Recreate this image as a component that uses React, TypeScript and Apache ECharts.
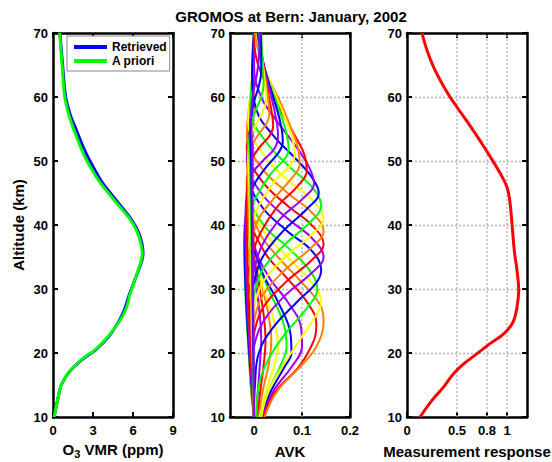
import React, { useEffect, useRef } from 'react';
import * as echarts from 'echarts';

const FONT = '"Liberation Sans", Arial, Helvetica, sans-serif';

// ---------- Panel 1: ozone profiles (ppm) ----------
const o3Altitudes = [10, 13, 15, 17, 19, 20.5, 22.5, 25, 27, 29, 31.5, 34, 35.5, 37, 39, 41, 43, 45, 47, 50, 52, 55, 57, 60, 65, 70];
const o3Retrieved = [0.08, 0.38, 0.62, 1.2, 2.2, 3.2, 4.15, 4.95, 5.4, 5.7, 6.15, 6.6, 6.75, 6.68, 6.38, 5.83, 5.07, 4.3, 3.58, 2.77, 2.3, 1.72, 1.33, 0.95, 0.72, 0.52];
const o3Apriori = [0.08, 0.38, 0.62, 1.2, 2.15, 3.15, 4.1, 5.0, 5.5, 5.75, 6.15, 6.55, 6.7, 6.6, 6.3, 5.75, 4.95, 4.15, 3.4, 2.55, 2.1, 1.55, 1.22, 0.88, 0.68, 0.5];
const o3Ticks = [0, 3, 6, 9];

// ---------- Panel 2: averaging kernels, [AVK value, altitude km] ----------
const avkNominal = [10, 12, 14, 16, 18, 20, 22, 24, 26, 28, 30, 32, 34, 36, 38, 40, 42, 44, 46, 48, 50, 52, 54, 56, 58, 60, 62, 64, 66, 68, 70];
const avkKernels: number[][][] = [
  [[0.005, 10], [0.008, 14], [0.012, 18], [0.015, 22], [0.012, 26], [0.006, 30], [0.0, 36], [-0.004, 44], [-0.002, 55], [0, 70]],
  [[0.008, 10], [0.013, 14], [0.02, 18], [0.024, 22], [0.02, 26], [0.01, 31], [0, 37], [-0.005, 45], [-0.002, 56], [0, 70]],
  [[0.01, 10], [0.018, 14], [0.03, 18], [0.036, 22], [0.03, 26], [0.015, 31], [0, 37], [-0.006, 45], [-0.002, 56], [0, 70]],
  [[0.012, 10], [0.025, 14], [0.042, 18], [0.05, 21], [0.042, 25], [0.02, 30], [0.002, 36], [-0.008, 44], [-0.003, 56], [0, 70]],
  [[0.014, 10], [0.03, 14], [0.055, 18], [0.068, 21], [0.06, 25], [0.03, 30], [0.005, 35], [-0.01, 43], [-0.004, 55], [0, 70]],
  [[0.016, 10], [0.035, 14], [0.065, 18], [0.078, 20], [0.076, 23], [0.05, 28], [0.015, 33], [-0.008, 40], [-0.006, 50], [0, 70]],
  [[0.018, 10], [0.04, 14], [0.08, 18], [0.1, 21], [0.098, 24], [0.07, 28], [0.03, 32], [0.0, 37], [-0.01, 44], [-0.004, 55], [0, 70]],
  [[0.02, 10], [0.045, 14], [0.095, 18], [0.125, 22], [0.13, 24.5], [0.11, 28], [0.065, 32], [0.02, 36], [-0.008, 42], [-0.005, 52], [0, 70]],
  [[0.022, 10], [0.048, 14], [0.098, 18], [0.13, 21], [0.145, 25], [0.138, 27.5], [0.1, 31], [0.05, 35], [0.01, 39], [-0.01, 45], [-0.004, 55], [0, 70]],
  [[0.015, 10], [0.03, 14], [0.06, 18], [0.095, 22], [0.13, 26], [0.14, 28], [0.12, 31], [0.07, 35], [0.02, 39], [-0.01, 44], [-0.005, 54], [0, 70]],
  [[0.005, 10], [0.01, 15], [0.03, 19], [0.065, 23], [0.11, 27], [0.132, 30], [0.115, 33], [0.07, 36.5], [0.02, 40], [-0.01, 45], [-0.005, 55], [0, 70]],
  [[0, 10], [0.002, 15], [0.01, 20], [0.04, 24], [0.09, 28], [0.13, 31], [0.14, 33], [0.12, 36], [0.07, 39], [0.015, 43], [-0.012, 48], [-0.004, 58], [0, 70]],
  [[0, 10], [-0.005, 16], [0, 21], [0.02, 25], [0.065, 29], [0.12, 32.5], [0.145, 35], [0.12, 38], [0.07, 41], [0.015, 45], [-0.015, 50], [-0.005, 58], [0, 70]],
  [[0, 10], [-0.008, 18], [0, 23], [0.018, 27], [0.065, 31], [0.12, 34.5], [0.145, 37], [0.12, 40], [0.07, 43], [0.015, 47], [-0.015, 52], [-0.005, 60], [0, 70]],
  [[0, 10], [-0.01, 20], [0, 25], [0.018, 29], [0.065, 33], [0.12, 36.5], [0.145, 39], [0.12, 42], [0.07, 45], [0.015, 49], [-0.015, 54], [-0.005, 62], [0, 70]],
  [[0, 10], [-0.01, 22], [0, 27], [0.018, 31], [0.065, 35], [0.12, 38.5], [0.145, 41], [0.12, 44], [0.07, 47], [0.02, 51], [-0.012, 56], [-0.004, 63], [0, 70]],
  [[0, 10], [-0.01, 24], [0, 29], [0.018, 33], [0.065, 37], [0.118, 40.5], [0.14, 43], [0.12, 46], [0.075, 49], [0.025, 53], [-0.008, 58], [-0.003, 64], [0, 70]],
  [[0, 10], [-0.01, 26], [0, 31], [0.018, 35], [0.06, 39], [0.11, 42.5], [0.135, 45], [0.12, 47.5], [0.085, 50.5], [0.04, 54], [0.005, 58], [-0.004, 64], [0, 70]],
  [[0, 10], [-0.012, 28], [0, 33], [0.018, 37], [0.055, 41], [0.1, 44], [0.125, 46.5], [0.115, 49], [0.09, 52], [0.05, 56], [0.015, 60], [0, 65], [0, 70]],
  [[0, 10], [-0.015, 30], [-0.005, 35], [0.015, 39], [0.05, 43], [0.09, 46], [0.11, 48.5], [0.105, 51], [0.085, 54], [0.055, 58], [0.025, 62], [0.005, 66], [0, 70]],
  [[0, 10], [-0.015, 32], [-0.008, 37], [0.01, 41], [0.04, 44], [0.075, 47], [0.095, 49.5], [0.092, 52], [0.078, 55], [0.056, 59], [0.03, 63], [0.01, 67], [0.002, 70]],
  [[0, 10], [-0.018, 34], [-0.01, 39], [0.01, 43], [0.045, 47], [0.078, 49.5], [0.085, 51], [0.078, 54], [0.058, 58], [0.035, 62], [0.016, 66], [0.006, 70]],
  [[0, 10], [-0.02, 36], [-0.012, 41], [0.002, 44], [0.035, 48], [0.066, 50.5], [0.072, 52], [0.065, 55], [0.048, 59], [0.028, 63], [0.013, 67], [0.007, 70]],
  [[0, 10], [-0.02, 38], [-0.014, 43], [-0.002, 46], [0.025, 49], [0.053, 51.5], [0.06, 53], [0.055, 56], [0.04, 60], [0.024, 64], [0.012, 68], [0.008, 70]],
  [[0, 10], [-0.018, 40], [-0.015, 45], [-0.004, 48], [0.018, 50], [0.043, 52], [0.05, 54], [0.045, 57], [0.033, 61], [0.02, 65], [0.012, 69], [0.01, 70]],
  [[0, 10], [-0.015, 42], [-0.015, 47], [-0.006, 50], [0.01, 52], [0.033, 54], [0.04, 55.5], [0.036, 58], [0.026, 62], [0.017, 66], [0.012, 70]],
  [[0, 10], [-0.012, 44], [-0.014, 49], [-0.007, 52], [0.008, 54], [0.027, 56], [0.032, 57.5], [0.029, 60], [0.021, 64], [0.014, 68], [0.013, 70]],
  [[0, 10], [-0.01, 46], [-0.012, 51], [-0.006, 54], [0.006, 56], [0.02, 58], [0.025, 59.5], [0.023, 62], [0.017, 66], [0.014, 70]],
  [[0, 10], [-0.008, 48], [-0.01, 53], [-0.005, 56], [0.004, 58], [0.015, 60], [0.02, 62], [0.018, 64.5], [0.015, 70]],
  [[0, 10], [-0.006, 50], [-0.008, 55], [-0.004, 58], [0.003, 60], [0.011, 62], [0.015, 64], [0.015, 67], [0.014, 70]],
  [[0, 10], [-0.004, 52], [-0.006, 57], [-0.003, 60], [0.002, 62], [0.007, 64], [0.01, 66], [0.012, 70]],
];
const avkColors = ['#ff0000', '#ff8000', '#ffff00', '#00ff00', '#0000ff', '#9900ff'];
const avkTicks = [0, 0.1, 0.2];
const avkGridX = [0, 0.1];

// ---------- Panel 3: measurement response ----------
const respAltitudes = [10, 12.6, 14.7, 16.8, 18.3, 19.9, 21.5, 23, 24.8, 27.2, 29.8, 32.9, 36, 40.2, 43.9, 45.9, 48, 50.1, 52.7, 55.3, 58.4, 60, 62.1, 64.7, 67.3, 70];
const respValues = [0.13, 0.25, 0.367, 0.467, 0.567, 0.7, 0.833, 0.967, 1.06, 1.1, 1.117, 1.1, 1.073, 1.05, 1.027, 1.0, 0.935, 0.855, 0.75, 0.64, 0.5, 0.43, 0.35, 0.265, 0.2, 0.15];
const respTicks = [0, 0.5, 0.8, 1];
const respGridX = [0.5, 0.8, 1];

const altTicksMin = 10;
const altTicksMax = 70;

export default function App() {
  const ref = useRef<HTMLDivElement>(null);

  useEffect(() => {
    if (!ref.current) return;
    const chart = echarts.init(ref.current, null, { renderer: 'svg' });

    const lefts = [53, 230, 407];
    const top = 33;
    const width = 120;
    const height = 384;
    const grids = lefts.map((l) => ({ left: l, top, width, height, containLabel: false, outerBoundsMode: 'none' }));

    const labelStyle = { color: '#000', fontFamily: FONT, fontWeight: 'bold' as const, fontSize: 13 };
    const nameStyle = { color: '#000', fontFamily: FONT, fontWeight: 'bold' as const, fontSize: 15 };
    const frameLine = { show: true, onZero: false, lineStyle: { color: '#000', width: 2.5 } };
    const gridLineStyle = { color: '#b0b0b0', width: 1.3, type: [2, 2] as any };

    const xRanges = [
      { min: 0, max: 9, ticks: o3Ticks },
      { min: -0.05, max: 0.2, ticks: avkTicks },
      { min: 0, max: 1.2, ticks: respTicks },
    ];
    const xNames = ['{a|O}{b|3}{a| VMR (ppm)}', 'AVK', 'Measurement response'];

    const xAxis: any[] = [];
    const yAxis: any[] = [];
    xRanges.forEach((r, i) => {
      xAxis.push({
        gridIndex: i,
        type: 'value',
        position: 'bottom',
        min: r.min,
        max: r.max,
        axisLine: frameLine,
        axisTick: { show: true, inside: true, length: 5, lineStyle: { color: '#000', width: 2 }, customValues: r.ticks },
        axisLabel: { show: true, margin: 7, ...labelStyle, customValues: r.ticks, formatter: (v: number) => String(+v.toFixed(2)) },
        splitLine: { show: false },
        name: xNames[i],
        nameLocation: 'middle',
        nameGap: i === 0 ? 21 : 27,
        nameTextStyle: {
          ...nameStyle,
          rich: {
            a: { ...nameStyle },
            b: { ...nameStyle, fontSize: 11, padding: [10, 0, 0, 0] },
          },
        },
      });
      xAxis.push({
        gridIndex: i,
        type: 'value',
        position: 'top',
        min: r.min,
        max: r.max,
        axisLine: frameLine,
        axisTick: { show: true, inside: true, length: 5, lineStyle: { color: '#000', width: 2 }, customValues: r.ticks },
        axisLabel: { show: false },
        splitLine: { show: false },
      });
      yAxis.push({
        gridIndex: i,
        type: 'value',
        position: 'left',
        min: altTicksMin,
        max: altTicksMax,
        interval: 10,
        axisLine: frameLine,
        axisTick: { show: true, inside: true, length: 5, lineStyle: { color: '#000', width: 2 } },
        axisLabel: { show: true, margin: 5, ...labelStyle },
        splitLine: { show: i > 0, lineStyle: gridLineStyle },
      });
      yAxis.push({
        gridIndex: i,
        type: 'value',
        position: 'right',
        min: altTicksMin,
        max: altTicksMax,
        interval: 10,
        axisLine: frameLine,
        axisTick: { show: true, inside: true, length: 5, lineStyle: { color: '#000', width: 2 } },
        axisLabel: { show: false },
        splitLine: { show: false },
      });
    });

    const series: any[] = [];
    series.push({
      name: 'Retrieved',
      type: 'line',
      xAxisIndex: 0,
      yAxisIndex: 0,
      data: o3Altitudes.map((a, k) => [o3Retrieved[k], a]),
      showSymbol: false,
      smooth: 0.3,
      lineStyle: { color: '#0000ff', width: 3 },
      itemStyle: { color: '#0000ff' },
      z: 2,
    });
    series.push({
      name: 'A priori',
      type: 'line',
      xAxisIndex: 0,
      yAxisIndex: 0,
      data: o3Altitudes.map((a, k) => [o3Apriori[k], a]),
      showSymbol: false,
      smooth: 0.3,
      lineStyle: { color: '#00ff00', width: 3 },
      itemStyle: { color: '#00ff00' },
      z: 3,
    });

    avkGridX.forEach((v) => {
      series.push({
        type: 'line', xAxisIndex: 2, yAxisIndex: 2, silent: true, showSymbol: false, z: 1,
        data: [[v, altTicksMin], [v, altTicksMax]],
        lineStyle: gridLineStyle,
      });
    });
    avkKernels.forEach((k, i) => {
      const c = avkColors[(i + 5) % avkColors.length];
      series.push({
        name: 'avk' + avkNominal[i],
        type: 'line',
        xAxisIndex: 2,
        yAxisIndex: 2,
        data: k,
        showSymbol: false,
        smooth: 0.4,
        lineStyle: { color: c, width: 2 },
        itemStyle: { color: c },
        z: 2,
      });
    });

    respGridX.forEach((v) => {
      series.push({
        type: 'line', xAxisIndex: 4, yAxisIndex: 4, silent: true, showSymbol: false, z: 1,
        data: [[v, altTicksMin], [v, altTicksMax]],
        lineStyle: gridLineStyle,
      });
    });
    series.push({
      name: 'Measurement response',
      type: 'line',
      xAxisIndex: 4,
      yAxisIndex: 4,
      data: respAltitudes.map((a, k) => [respValues[k], a]),
      showSymbol: false,
      smooth: 0.4,
      lineStyle: { color: '#ff0000', width: 3 },
      itemStyle: { color: '#ff0000' },
      z: 2,
    });

    chart.setOption({
      animation: false,
      backgroundColor: '#fff',
      grid: grids,
      xAxis,
      yAxis,
      series,
      legend: {
        data: ['Retrieved', 'A priori'],
        orient: 'vertical',
        left: 67,
        top: 36,
        backgroundColor: '#fff',
        borderColor: '#888',
        borderWidth: 1,
        padding: [5, 3, 4, 7],
        itemWidth: 33,
        itemHeight: 4,
        itemGap: 2,
        icon: 'rect',
        selectedMode: false,
        textStyle: { color: '#000', fontFamily: FONT, fontWeight: 'bold', fontSize: 12 },
      },
      graphic: [
        {
          type: 'text',
          x: 291,
          y: 16,
          style: {
            text: 'GROMOS at Bern: January, 2002',
            fill: '#000',
            font: 'bold 15px ' + FONT,
            align: 'center',
            verticalAlign: 'middle',
          },
        },
        {
          type: 'text',
          x: 18,
          y: 225,
          rotation: Math.PI / 2,
          style: {
            text: 'Altitude (km)',
            fill: '#000',
            font: 'bold 15px ' + FONT,
            align: 'center',
            verticalAlign: 'middle',
          },
        },
      ],
    });

    return () => chart.dispose();
  }, []);

  return <div ref={ref} style={{ position: 'fixed', left: 0, top: 0, width: 552, height: 462, background: '#fff' }} />;
}
